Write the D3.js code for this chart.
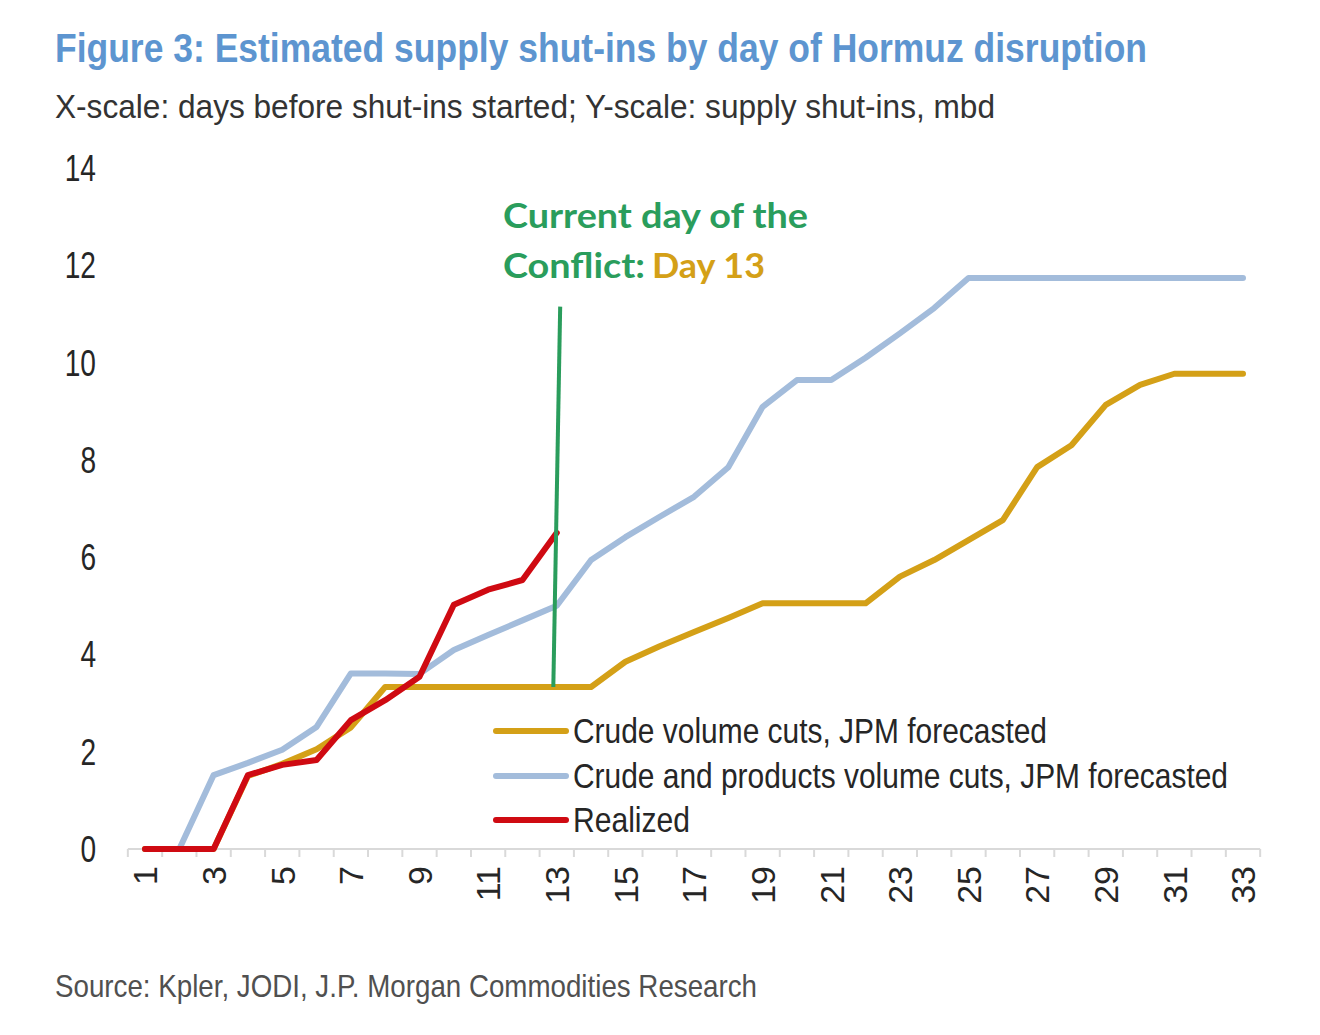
<!DOCTYPE html>
<html>
<head>
<meta charset="utf-8">
<script src="https://cdn.jsdelivr.net/npm/d3@7/dist/d3.min.js"></script>
<style>
  html, body { margin: 0; padding: 0; background: #ffffff; }
  svg { display: block; }
</style>
</head>
<body>
<svg id="chart" width="1320" height="1035"></svg>
<script>
// ---------- data ----------
const days = d3.range(1, 34);
const crudeCuts = [0, 0, 0, 1.5, 1.75, 2.05, 2.5, 3.33, 3.33, 3.33, 3.33, 3.33, 3.33, 3.33,
  3.85, 4.17, 4.46, 4.75, 5.05, 5.05, 5.05, 5.05, 5.6, 5.94, 6.35, 6.76, 7.85, 8.3, 9.13,
  9.54, 9.77, 9.77, 9.77];
const crudeProductsCuts = [0, 0, 1.52, 1.77, 2.04, 2.51, 3.61, 3.61, 3.6, 4.09, 4.4, 4.7, 5.0,
  5.94, 6.41, 6.83, 7.24, 7.85, 9.09, 9.64, 9.64, 10.1, 10.6, 11.12, 11.74, 11.74, 11.74,
  11.74, 11.74, 11.74, 11.74, 11.74, 11.74];
const realized = [0, 0, 0, 1.52, 1.73, 1.83, 2.65, 3.06, 3.54, 5.02, 5.33, 5.53, 6.5];
const yTicks = [0, 2, 4, 6, 8, 10, 12, 14];
const xTickLabels = days.filter(d => d % 2 === 1);
const currentDay = 13;
const markerDays = [12.9, 13.1];        // bottom, top of the marker line
const markerValues = [3.33, 11.15];
const seriesNames = ["Crude volume cuts, JPM forecasted",
  "Crude and products volume cuts, JPM forecasted", "Realized"];
const seriesColors = ["#d4a017", "#a3bcdb", "#cf0a12"];

const titleText = "Figure 3: Estimated supply shut-ins by day of Hormuz disruption";
const subtitleText = "X-scale: days before shut-ins started; Y-scale: supply shut-ins, mbd";
const sourceText = "Source: Kpler, JODI, J.P. Morgan Commodities Research";

// ---------- setup ----------
const svg = d3.select("#chart");
const FONT = "'Liberation Sans', Arial, sans-serif";
const x = d3.scaleLinear().domain([1, 33]).range([145, 1243]);
const y = d3.scaleLinear().domain([0, 14]).range([849, 168]);

function fit(sel, w) {
  sel.attr("textLength", w).attr("lengthAdjust", "spacingAndGlyphs");
}
function condense(sel, f) {
  sel.each(function () {
    const n = this.getComputedTextLength();
    d3.select(this).attr("textLength", n * f).attr("lengthAdjust", "spacingAndGlyphs");
  });
}

// ---------- titles ----------
svg.append("text").attr("x", 55).attr("y", 62)
  .attr("font-family", FONT).attr("font-size", 40).attr("font-weight", "bold")
  .attr("fill", "#5d95d0").text(titleText).call(fit, 1092);
svg.append("text").attr("x", 55).attr("y", 118)
  .attr("font-family", FONT).attr("font-size", 33)
  .attr("fill", "#333333").text(subtitleText).call(fit, 940);
svg.append("text").attr("x", 55).attr("y", 997)
  .attr("font-family", FONT).attr("font-size", 32)
  .attr("fill", "#505050").text(sourceText).call(fit, 702);

// ---------- y labels ----------
svg.append("g").selectAll("text").data(yTicks).join("text")
  .attr("x", 96).attr("y", d => y(d)).attr("dy", "0.36em")
  .attr("text-anchor", "end").attr("font-family", FONT).attr("font-size", 36)
  .attr("fill", "#262626").text(d => d).call(condense, 0.78);

// ---------- x axis ----------
const xAxisG = svg.append("g");
xAxisG.append("line").attr("x1", x(0.5)).attr("x2", x(33.5))
  .attr("y1", y(0)).attr("y2", y(0)).attr("stroke", "#d9d9d9").attr("stroke-width", 2);
xAxisG.selectAll("line.tick").data(d3.range(0.5, 34, 1)).join("line").attr("class", "tick")
  .attr("x1", d => x(d)).attr("x2", d => x(d))
  .attr("y1", y(0)).attr("y2", y(0) + 8).attr("stroke", "#d9d9d9").attr("stroke-width", 2);
xAxisG.selectAll("text").data(xTickLabels).join("text")
  .attr("transform", d => `translate(${x(d)},866) rotate(-90)`)
  .attr("dy", "0.36em").attr("text-anchor", "end")
  .attr("font-family", FONT).attr("font-size", 34).attr("fill", "#262626")
  .text(d => d);

// ---------- lines ----------
const line = d3.line().x(d => x(d[0])).y(d => y(d[1]));
const allSeries = [crudeCuts, crudeProductsCuts, realized];
const drawOrder = [1, 0, 2];
drawOrder.forEach(i => {
  const pts = allSeries[i].map((v, k) => [days[k], v]);
  svg.append("path").datum(pts).attr("d", line)
    .attr("fill", "none").attr("stroke", seriesColors[i]).attr("stroke-width", 6)
    .attr("stroke-linejoin", "round").attr("stroke-linecap", "round");
});

// ---------- current-day marker ----------
svg.append("line")
  .attr("x1", x(markerDays[0])).attr("y1", y(markerValues[0]))
  .attr("x2", x(markerDays[1])).attr("y2", y(markerValues[1]))
  .attr("stroke", "#2a9d5c").attr("stroke-width", 4);

const ANN = "Lato, 'Open Sans', sans-serif";
svg.append("text").attr("x", 503).attr("y", 228)
  .attr("font-family", ANN).attr("font-size", 35).attr("font-weight", "bold")
  .attr("fill", "#2a9d5c").text("Current day of the").call(fit, 305);
svg.append("text").attr("x", 503).attr("y", 278)
  .attr("font-family", ANN).attr("font-size", 35).attr("font-weight", "bold")
  .attr("fill", "#2a9d5c").text("Conflict:").call(fit, 142);
svg.append("text").attr("x", 652).attr("y", 278)
  .attr("font-family", ANN).attr("font-size", 35).attr("font-weight", "bold")
  .attr("fill", "#d4a017").text("Day " + currentDay).call(fit, 113);

// ---------- legend ----------
const legendY = [731, 776, 820];
const legendW = [474, 655, 117];
const lg = svg.append("g");
seriesNames.forEach((name, i) => {
  lg.append("line").attr("x1", 496).attr("x2", 566)
    .attr("y1", legendY[i]).attr("y2", legendY[i])
    .attr("stroke", seriesColors[i]).attr("stroke-width", 6).attr("stroke-linecap", "round");
  lg.append("text").attr("x", 573).attr("y", legendY[i] + 12)
    .attr("font-family", FONT).attr("font-size", 35).attr("fill", "#262626")
    .text(name).call(fit, legendW[i]);
});
</script>
</body>
</html>
